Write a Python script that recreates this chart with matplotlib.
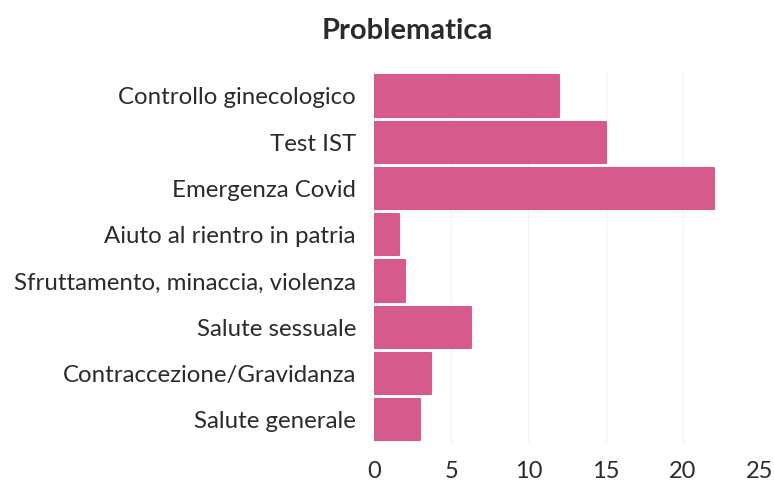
import matplotlib
matplotlib.use("Agg")
import matplotlib.pyplot as plt

categories = [
    "Controllo ginecologico",
    "Test IST",
    "Emergenza Covid",
    "Aiuto al rientro in patria",
    "Sfruttamento, minaccia, violenza",
    "Salute sessuale",
    "Contraccezione/Gravidanza",
    "Salute generale",
]
values = [12, 15, 22, 1.6, 2, 6.3, 3.7, 3]
xticks = [0, 5, 10, 15, 20, 25]
title = "Problematica"

bar_color = "#D65A8B"
text_color = "#2b2b2b"

plt.rcParams["font.family"] = ["Lato", "DejaVu Sans"]

fig = plt.figure(figsize=(7.74, 4.82), dpi=100)
ax = fig.add_axes([374 / 774, 1 - 443 / 482, (760 - 374) / 774, (443 - 72.8) / 482])

ypos = list(range(len(categories)))
bars = ax.barh(ypos, values, height=0.89, color=bar_color, edgecolor=bar_color,
               linewidth=1.5, zorder=3)
for b in bars:
    b.set_joinstyle("round")

ax.set_xlim(0, 25)
ax.set_ylim(len(categories) - 0.5, -0.5)
ax.set_yticks(ypos)
ax.set_yticklabels(categories, fontsize=17.3, color=text_color)
ax.set_xticks(xticks)
ax.set_xticklabels([str(t) for t in xticks], fontsize=17, color=text_color)
ax.tick_params(axis="both", length=0)
ax.tick_params(axis="y", pad=13)
ax.tick_params(axis="x", pad=13)
for s in ax.spines.values():
    s.set_visible(False)
ax.grid(axis="x", color="#f3f4f5", linewidth=1, zorder=0)
ax.set_axisbelow(True)

fig.text(407 / 774, 1 - 31 / 482, title, ha="center", va="center",
         fontsize=21, fontweight="bold", color=text_color)

fig.savefig("out.png", dpi=100, facecolor="white")
